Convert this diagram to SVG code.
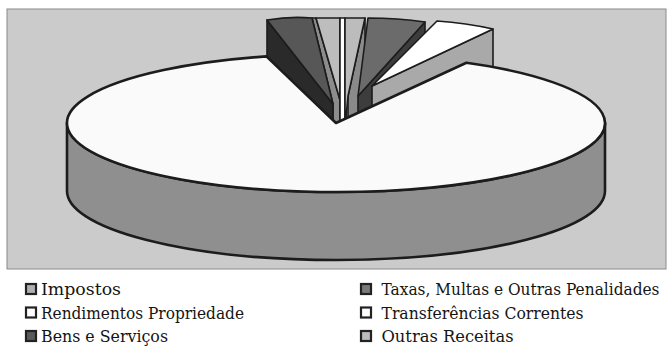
<svg xmlns="http://www.w3.org/2000/svg" width="671" height="347" viewBox="0 0 671 347">
<style>
.edge{stroke:#1c1c1c;stroke-width:1.6;stroke-linejoin:round}
.pie{stroke:#1c1c1c;stroke-width:2.6;stroke-linejoin:round}
.mk{stroke:#222;stroke-width:2.2}
</style>
<rect width="671" height="347" fill="#ffffff"/>
<g id="frame">
<rect x="7" y="9" width="659" height="260" fill="#cbcbcb" stroke="#8a8a8a" stroke-width="1"/>
</g>
<g id="small-slices">
<g id="slice-impostos">
<path class="edge" d="M312,18 L316,18 L340,100 L340,128 L333,128 L333,104 Z" fill="#8c8c8c"/>
<path class="edge" d="M316,18 L340,18 L340,100 Z" fill="#bdbdbd"/>
</g>
<g id="slice-bens">
<path class="edge" d="M267,20 L333,104 L333,172 L267,88 Z" fill="#2a2a2a"/>
<path class="edge" d="M267,20 Q290,16 312,18 L333,104 Z" fill="#575757"/>
</g>
<g id="slice-rendimentos">
<path class="edge" d="M340,18 L345,18 L345,128 L340,128 Z" fill="#ffffff"/>
</g>
<g id="slice-outras">
<path class="edge" d="M365,18 L348,96 L348,164 L365,86 Z" fill="#8a8a8a"/>
<path class="edge" d="M345,18 L365,18 L348,96 L345,128 Z" fill="#bcbcbc"/>
</g>
<g id="slice-taxas">
<path class="edge" d="M425,22 L358,96 L358,164 L425,90 Z" fill="#3d3d3d"/>
<path class="edge" d="M368,18 Q398,18 425,22 L358,96 Z" fill="#6b6b6b"/>
</g>
<g id="slice-transferencias">
<path class="edge" d="M372,86 L493,29 L493,97 L372,154 Z" fill="#a9a9a9"/>
<path class="edge" d="M372,86 L437,21 Q466,23 493,29 Z" fill="#ffffff"/>
</g>
</g>
<g id="slice-main">
<path class="pie" d="M67,123 L67,191 A269,69 0 0 0 605,191 L605,123 A269,69 0 0 1 67,123 Z" fill="#8f8f8f"/>
<path class="pie" d="M336,123 L266.4,56.4 A269,69 0 1 0 466.4,62.7 Z" fill="#fafafa"/>
</g>
<g id="legend" font-family="'DejaVu Serif', 'Liberation Serif', serif" font-size="16" fill="#141414">
<g id="lg-impostos"><rect class="mk" x="26" y="284" width="10" height="10" fill="#b0b0b0"/><text x="41" y="295" textLength="80" lengthAdjust="spacingAndGlyphs">Impostos</text></g>
<g id="lg-rendimentos"><rect class="mk" x="26" y="307.5" width="10" height="10" fill="#ffffff"/><text x="41" y="318.5" textLength="203" lengthAdjust="spacingAndGlyphs">Rendimentos Propriedade</text></g>
<g id="lg-bens"><rect class="mk" x="26" y="331" width="10" height="10" fill="#5a5a5a"/><text x="41" y="342" textLength="127" lengthAdjust="spacingAndGlyphs">Bens e Serviços</text></g>
<g id="lg-taxas"><rect class="mk" x="361" y="284" width="10" height="10" fill="#7a7a7a"/><text x="381.5" y="295" textLength="278" lengthAdjust="spacingAndGlyphs">Taxas, Multas e Outras Penalidades</text></g>
<g id="lg-transferencias"><rect class="mk" x="361" y="307.5" width="10" height="10" fill="#ffffff"/><text x="381.5" y="318.5" textLength="202" lengthAdjust="spacingAndGlyphs">Transferências Correntes</text></g>
<g id="lg-outras"><rect class="mk" x="361" y="331" width="10" height="10" fill="#bcbcbc"/><text x="381.5" y="342" textLength="132" lengthAdjust="spacingAndGlyphs">Outras Receitas</text></g>
</g>
</svg>
